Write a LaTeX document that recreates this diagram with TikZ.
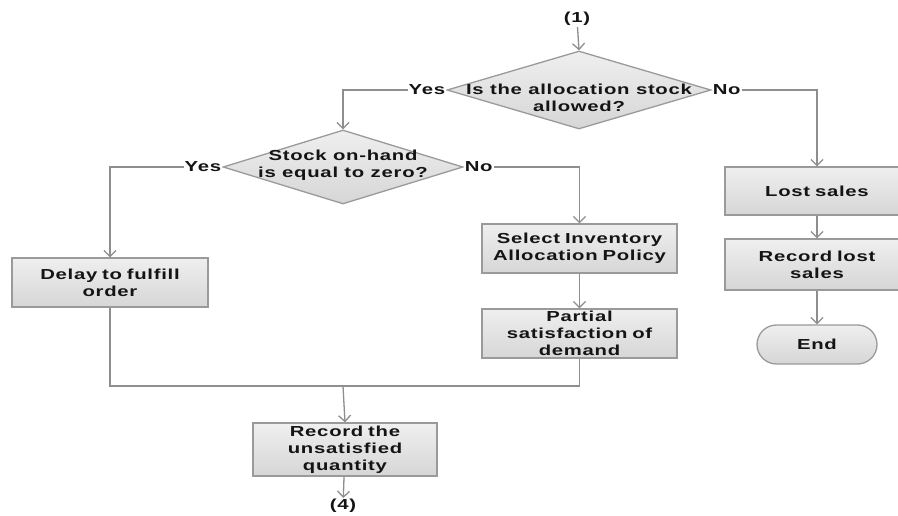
\documentclass[tikz,border=0pt]{standalone}
\usepackage{fontspec}
\setmainfont{Liberation Sans}[FakeStretch=1.4, LetterSpace=5]
\usetikzlibrary{shapes.geometric,shapes.misc,arrows.meta}
\definecolor{linegray}{HTML}{8E8E8E}
\definecolor{edgegray}{HTML}{9A9A9A}
\definecolor{boxtop}{HTML}{EFEFEF}
\definecolor{boxbot}{HTML}{D6D6D6}
\definecolor{inkdark}{HTML}{141414}
\begin{document}
\begin{tikzpicture}[x=1pt,y=-1pt,
  every node/.style={text=inkdark},
  font=\bfseries\fontsize{14.5}{17}\selectfont,
  flow/.style={draw=linegray, line width=1.3pt, -{Straight Barb[length=6pt,width=12pt,line width=1.3pt]}},
  link/.style={draw=linegray, line width=1.3pt},
  box/.style={rectangle, draw=edgegray, line width=1.3pt, top color=boxtop, bottom color=boxbot,
    align=center, inner sep=0pt, text width=#1},
  box/.default=170pt,
  decision/.style={diamond, draw=edgegray, line width=1.3pt, top color=boxtop, bottom color=boxbot,
    inner sep=0pt},
  term/.style={rounded rectangle, draw=edgegray, line width=1.3pt, top color=boxtop, bottom color=boxbot,
    inner sep=0pt, minimum width=120pt, minimum height=39pt},
  tag/.style={fill=white, inner sep=1pt},
  ref/.style={inner sep=1pt}]
\useasboundingbox (0,0) rectangle (898,516);
\clip (0,0) rectangle (898,516);
\fill[white] (0,0) rectangle (898,516);

% entry connector
\node[ref] (in) at (577,19) {(1)};

% first decision
\node[decision, minimum width=264pt, minimum height=78pt] (q1) at (579,90) {};
\node[align=center, inner sep=0pt] (q1t) at (579,98) {Is the allocation stock\\allowed?};

% second decision
\node[decision, minimum width=240pt, minimum height=74pt] (q2) at (343,167) {};
\node[align=center, inner sep=0pt] (q2t) at (343,165) {Stock on-hand\\is equal to zero?};

% process boxes
\node[box, minimum width=196pt, minimum height=49pt] (delay) at (110,282.5) {Delay to fulfill\\order};
\node[box=192pt, minimum width=195pt, minimum height=49pt] (select) at (579.5,248.5) {Select Inventory\\Allocation Policy};
\node[box, minimum width=195pt, minimum height=49pt] (partial) at (579.5,333.5) {Partial\\satisfaction of\\demand};
\node[box, minimum width=184pt, minimum height=53pt] (record) at (345,449.5) {Record the\\unsatisfied\\quantity};
\node[box, minimum width=184pt, minimum height=48pt] (lost) at (817,191) {Lost sales};
\node[box, minimum width=184pt, minimum height=51pt] (rlost) at (817,264.5) {Record lost\\sales};
\node[term] (end) at (817,344.5) {End};

% exit connector
\node[ref] (out) at (343,506) {(4)};

% merge point below the two branches
\coordinate (merge) at (343,386);

% connectors
\draw[flow] (in) -- (q1.north);
\draw[flow] (q1.west) -| (q2.north);
\draw[flow] (q1.east) -| (lost.north);
\draw[flow] (q2.west) -| (delay.north);
\draw[flow] (q2.east) -| (select.north);
\draw[flow] (select) -- (partial);
\draw[link] (delay.south) |- (merge);
\draw[link] (partial.south) |- (merge);
\draw[flow] (merge) -- (record.north);
\draw[flow] (record) -- (out);
\draw[flow] (lost) -- (rlost);
\draw[flow] (rlost) -- (end);

% branch labels
\node[tag, anchor=east] (y1) at (q1.west) {Yes};
\node[tag, anchor=west] (n1) at (q1.east) {No};
\node[tag, anchor=east] (y2) at (q2.west) {Yes};
\node[tag, anchor=west] (n2) at (q2.east) {No};
\end{tikzpicture}
\end{document}
